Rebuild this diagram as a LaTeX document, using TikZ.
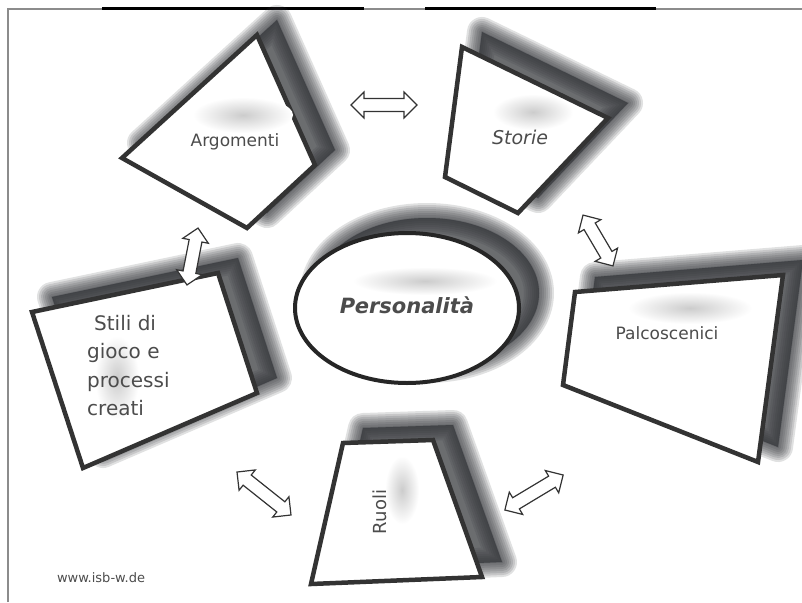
\documentclass[tikz,border=0pt]{standalone}
\usepackage{fontspec}
\setmainfont{DejaVu Sans}

\definecolor{frame}{gray}{0.55}
\definecolor{rim}{gray}{0.2}
\definecolor{shade}{RGB}{50,52,56}
\definecolor{ink}{gray}{0.3}

\tikzset{every picture/.style={x=1pt,y=-1pt}}
\tikzset{shadow layer/.style={fill=shade, draw=shade, opacity=0.15, line join=round}}
\tikzset{box/.style={fill=white, draw=rim, line width=4.5pt, line join=miter}}
\tikzset{label/.style={text=ink, inner sep=0pt, font=\fontsize{17}{20}\selectfont}}
\tikzset{pics/twoway/.style={code={
    \draw[draw=rim, fill=white, line width=1.2pt]
      ({-#1/2},0) -- ({-#1/2+13},13) -- ({-#1/2+13},6.5) -- ({#1/2-13},6.5) -- ({#1/2-13},13)
      -- ({#1/2},0) -- ({#1/2-13},-13) -- ({#1/2-13},-6.5) -- ({-#1/2+13},-6.5) -- ({-#1/2+13},-13) -- cycle;
    \coordinate (-mid) at (0,0);}}}

\newcommand{\soft}[1]{\begin{scope}[transform canvas={xshift=20pt,yshift=15pt}]
    \foreach \w in {30,26,...,2}{\path[shadow layer, line width=\w pt] #1;}\end{scope}}
\newcommand{\glow}[3]{\shade[inner color=gray!40, outer color=white] #1 ellipse (#2 and #3);}

\newcommand{\argpath}{(257,35) -- (315,165) -- (247,228) -- (122,158) -- cycle}
\newcommand{\storpath}{(462,47) -- (608,118) -- (518,213) -- (445,177) -- cycle}
\newcommand{\stilpath}{(32,312) -- (218,273) -- (257,393) -- (83,468) -- cycle}
\newcommand{\palcpath}{(575,292) -- (783,275) -- (758,462) -- (563,385) -- cycle}
\newcommand{\ruolpath}{(343,443) -- (433,440) -- (482,577) -- (311,584) -- cycle}
\newcommand{\perspath}{(407,308) ellipse (112 and 75)}

\begin{document}
\begin{tikzpicture}
    \useasboundingbox (0,0) rectangle (802,602);
    % frame
    \draw[frame, line width=1.5pt] (8,602) -- (8,9) -- (802,9);
    \draw[line width=3.5pt] (102,8.5) -- (364,8.5) (425,8.5) -- (656,8.5);
    % shadows
    \soft{\argpath}
    \soft{\storpath}
    \soft{\stilpath}
    \soft{\palcpath}
    \soft{\ruolpath}
    \soft{\perspath}
    % shapes
    \draw[box] \argpath;
    \draw[box] \storpath;
    \draw[box] \stilpath;
    \draw[box] \palcpath;
    \draw[box] \ruolpath;
    \draw[box, draw=black!85, line width=4pt] \perspath;
    \glow{(243,115)}{50}{18}
    \glow{(533,112)}{40}{18}
    \glow{(117,378)}{22}{42}
    \glow{(690,308)}{62}{16}
    \glow{(402,490)}{17}{34}
    \glow{(425,281)}{72}{14}
    % texts
    \node[label] (argo) at (235,142) {Argomenti};
    \node[label, font=\itshape\fontsize{19}{22}\selectfont] (stor) at (520,137) {Storie};
    \node[label, align=left, anchor=north west, font=\fontsize{20}{28.5}\selectfont] (stil) at (87,315)
        {\hspace{7pt}Stili di\\gioco e\\processi\\creati};
    \node[label] (palc) at (667,333) {Palcoscenici};
    \node[label, rotate=90, font=\fontsize{18}{20}\selectfont] (ruol) at (380,512) {Ruoli};
    \node[label, font=\bfseries\itshape\fontsize{21}{24}\selectfont] (pers) at (407,305) {Personalità};
    \node[label, font=\fontsize{13}{15}\selectfont] (web) at (101,578) {www.isb-w.de};
    % arrows
    \pic (as) at (384,105) {twoway=66};
    \pic[rotate=-59.5] (sp) at (598,240.5) {twoway=59};
    \pic[rotate=79] (ast) at (192.5,256.5) {twoway=58};
    \pic[rotate=-38.5] (str) at (264,493.5) {twoway=69};
    \pic[rotate=31] (rp) at (534,492.5) {twoway=68};
\end{tikzpicture}
\end{document}
